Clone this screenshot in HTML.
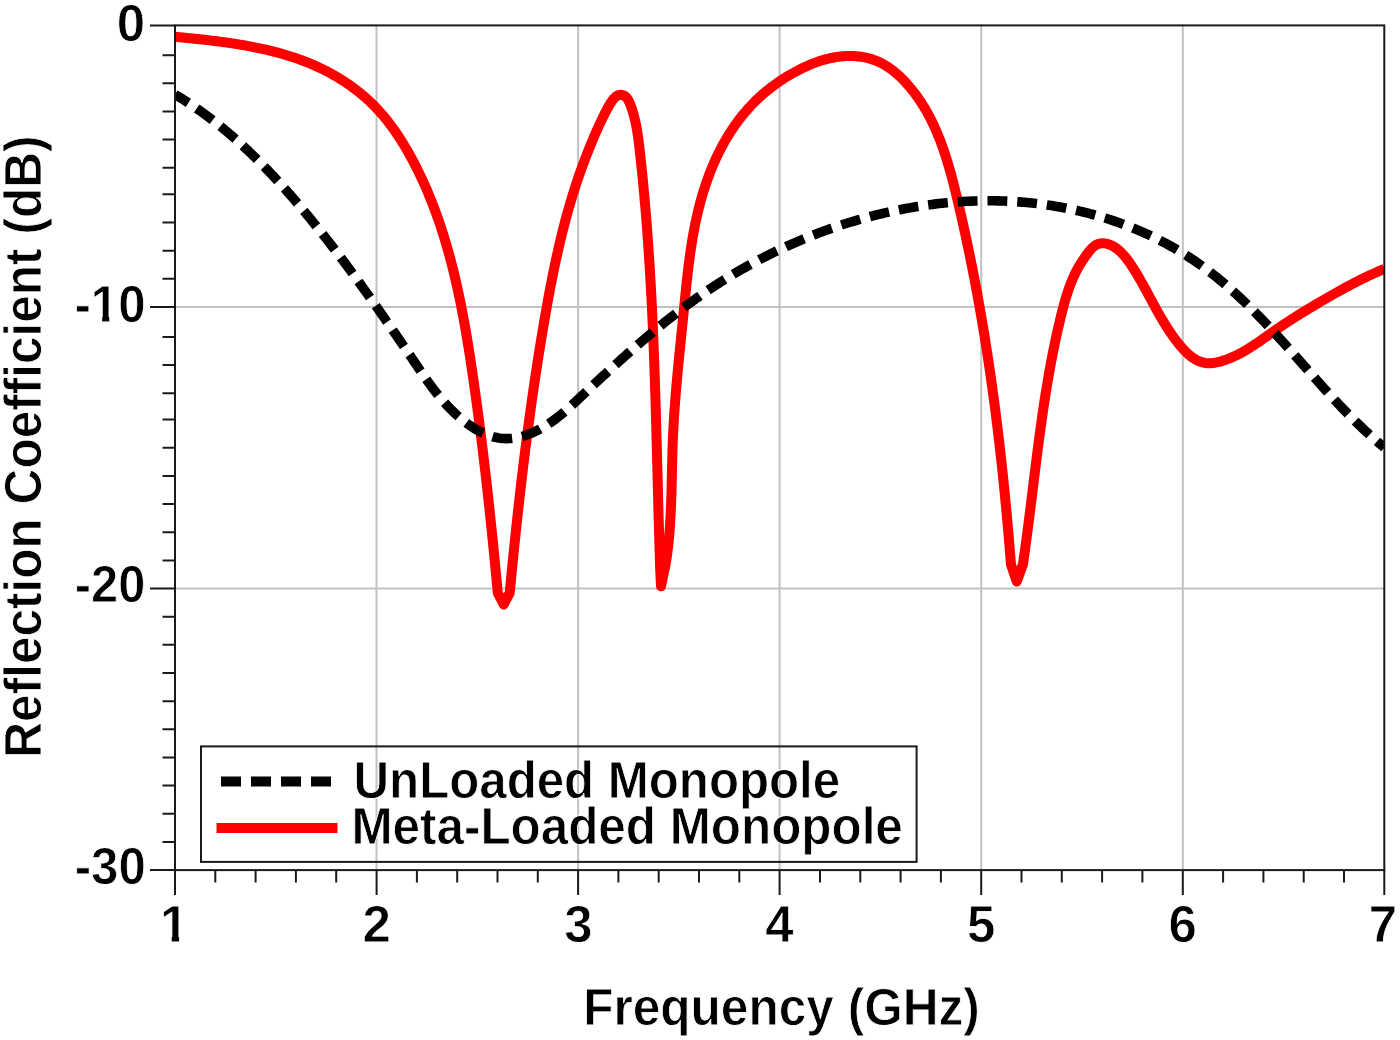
<!DOCTYPE html>
<html><head><meta charset="utf-8"><title>Reflection Coefficient</title>
<style>html,body{margin:0;padding:0;background:#fff;width:1400px;height:1040px;overflow:hidden}svg{display:block}</style>
</head><body>
<svg width="1400" height="1040" viewBox="0 0 1400 1040">
<rect width="1400" height="1040" fill="#fff"/>
<path d="M376.5 25.4V870.1M578.1 25.4V870.1M779.6 25.4V870.1M981.2 25.4V870.1M1182.8 25.4V870.1M175.0 307.0H1384.3M175.0 588.5H1384.3" stroke="#c2c2c2" stroke-width="2" fill="none"/>
<defs><clipPath id="c"><rect x="175.0" y="19.4" width="1209.3" height="850.7"/></clipPath></defs>
<g clip-path="url(#c)" fill="none" stroke-linejoin="round">
<path d="M175.00 36.70L177.44 36.94L179.89 37.19L182.35 37.44L184.81 37.68L187.28 37.94L189.75 38.19L192.22 38.45L194.70 38.71L197.19 38.98L199.68 39.25L202.17 39.52L204.66 39.80L207.16 40.09L209.66 40.39L212.17 40.69L214.67 41.00L217.18 41.31L219.69 41.64L222.19 41.97L224.70 42.32L227.21 42.67L229.72 43.03L232.23 43.40L234.74 43.79L237.24 44.18L239.75 44.59L242.25 45.01L244.75 45.45L247.25 45.89L249.75 46.35L252.24 46.83L254.73 47.31L257.22 47.82L259.70 48.34L262.18 48.87L264.65 49.42L267.12 49.99L269.58 50.58L272.04 51.18L274.49 51.80L276.94 52.44L279.37 53.10L281.80 53.78L284.23 54.48L286.64 55.20L289.05 55.94L291.45 56.70L293.84 57.49L296.22 58.29L298.60 59.12L300.96 59.97L303.31 60.85L305.65 61.75L307.99 62.67L310.31 63.62L312.62 64.59L314.91 65.59L317.20 66.62L319.47 67.67L321.74 68.75L323.98 69.86L326.22 70.99L328.44 72.15L330.64 73.34L332.83 74.55L335.01 75.79L337.17 77.06L339.31 78.35L341.43 79.67L343.54 81.01L345.63 82.39L347.70 83.78L349.75 85.21L351.78 86.66L353.79 88.14L355.79 89.64L357.76 91.17L359.70 92.73L361.63 94.31L363.54 95.92L365.42 97.56L367.28 99.22L369.11 100.91L370.92 102.62L372.71 104.36L374.46 106.13L376.20 107.92L377.91 109.74L379.59 111.58L381.24 113.45L382.87 115.34L384.48 117.25L386.06 119.19L387.62 121.15L389.15 123.12L390.67 125.12L392.15 127.14L393.62 129.18L395.06 131.23L396.49 133.30L397.89 135.39L399.27 137.49L400.63 139.61L401.97 141.74L403.30 143.88L404.60 146.03L405.88 148.20L407.15 150.38L408.40 152.57L409.63 154.77L410.85 156.97L412.04 159.19L413.23 161.41L414.39 163.64L415.54 165.87L416.68 168.11L417.80 170.36L418.90 172.61L419.99 174.87L421.07 177.13L422.13 179.41L423.18 181.68L424.21 183.97L425.23 186.25L426.23 188.55L427.22 190.85L428.19 193.15L429.16 195.46L430.10 197.78L431.04 200.10L431.96 202.43L432.87 204.76L433.77 207.10L434.65 209.44L435.52 211.79L436.38 214.14L437.22 216.49L438.06 218.85L438.88 221.22L439.69 223.59L440.49 225.96L441.27 228.34L442.05 230.73L442.81 233.11L443.56 235.50L444.30 237.90L445.04 240.30L445.76 242.70L446.46 245.11L447.16 247.52L447.85 249.93L448.53 252.35L449.20 254.77L449.86 257.19L450.51 259.62L451.15 262.05L451.78 264.49L452.40 266.92L453.01 269.36L453.62 271.81L454.21 274.25L454.80 276.70L455.37 279.15L455.94 281.61L456.50 284.06L457.06 286.52L457.60 288.98L458.14 291.45L458.67 293.91L459.19 296.38L459.71 298.85L460.21 301.32L460.71 303.80L461.21 306.27L461.70 308.75L462.18 311.23L462.65 313.71L463.12 316.19L463.58 318.68L464.04 321.16L464.49 323.65L464.93 326.14L465.37 328.62L465.81 331.11L466.23 333.60L466.66 336.10L467.08 338.59L467.49 341.08L467.90 343.58L468.30 346.07L468.71 348.56L469.10 351.06L469.49 353.55L469.88 356.05L470.27 358.55L470.65 361.04L471.03 363.54L471.40 366.03L471.77 368.53L472.14 371.02L472.50 373.52L472.87 376.01L473.23 378.51L473.58 381.00L473.94 383.50L474.29 385.99L474.64 388.48L474.99 390.97L475.34 393.46L475.69 395.95L476.03 398.44L476.37 400.93L476.71 403.42L477.04 405.91L477.38 408.40L477.71 410.88L478.04 413.37L478.37 415.86L478.70 418.34L479.02 420.83L479.35 423.31L479.67 425.80L479.99 428.28L480.30 430.77L480.62 433.25L480.93 435.74L481.25 438.22L481.56 440.71L481.87 443.19L482.17 445.67L482.48 448.16L482.78 450.64L483.08 453.13L483.38 455.61L483.68 458.09L483.98 460.58L484.27 463.06L484.57 465.54L484.86 468.03L485.15 470.51L485.44 473.00L485.72 475.48L486.01 477.97L486.29 480.45L486.58 482.94L486.86 485.42L487.14 487.91L487.42 490.39L487.69 492.88L487.97 495.37L488.24 497.86L488.51 500.34L488.79 502.83L489.06 505.32L489.32 507.81L489.59 510.30L489.86 512.79L490.12 515.28L490.39 517.77L490.65 520.26L490.91 522.76L491.17 525.25L491.43 527.74L491.69 530.24L491.94 532.73L492.20 535.23L492.45 537.73L492.71 540.22L492.96 542.72L493.21 545.22L493.46 547.72L493.71 550.22L493.95 552.73L494.20 555.23L494.45 557.73L494.69 560.24L494.94 562.74L495.18 565.25L495.42 567.76L495.66 570.27L495.90 572.78L496.14 575.29L496.38 577.80L496.62 580.31L496.86 582.83L497.09 585.35L497.33 587.86L497.56 590.38L497.80 592.90L503.70 604.50L509.70 592.90L509.94 590.40L510.18 587.91L510.41 585.41L510.65 582.92L510.90 580.42L511.14 577.93L511.38 575.43L511.62 572.94L511.87 570.44L512.12 567.95L512.36 565.45L512.61 562.96L512.86 560.46L513.11 557.97L513.36 555.47L513.62 552.98L513.87 550.48L514.12 547.99L514.38 545.50L514.64 543.00L514.90 540.51L515.16 538.01L515.42 535.52L515.68 533.03L515.95 530.53L516.21 528.04L516.48 525.55L516.75 523.06L517.01 520.56L517.29 518.07L517.56 515.58L517.83 513.09L518.10 510.59L518.38 508.10L518.66 505.61L518.94 503.12L519.22 500.63L519.50 498.14L519.78 495.65L520.07 493.16L520.35 490.67L520.64 488.17L520.93 485.68L521.22 483.19L521.52 480.70L521.81 478.22L522.11 475.73L522.40 473.24L522.70 470.75L523.00 468.26L523.30 465.77L523.61 463.28L523.91 460.79L524.22 458.31L524.53 455.82L524.84 453.33L525.15 450.84L525.47 448.36L525.78 445.87L526.10 443.38L526.42 440.90L526.74 438.41L527.07 435.93L527.39 433.44L527.72 430.95L528.05 428.47L528.38 425.98L528.71 423.50L529.04 421.02L529.38 418.53L529.72 416.05L530.06 413.56L530.40 411.08L530.74 408.60L531.09 406.12L531.44 403.63L531.79 401.15L532.14 398.67L532.50 396.19L532.85 393.71L533.21 391.23L533.57 388.75L533.93 386.26L534.30 383.78L534.66 381.30L535.03 378.83L535.40 376.35L535.78 373.87L536.15 371.39L536.53 368.91L536.91 366.43L537.29 363.95L537.68 361.48L538.06 359.00L538.45 356.52L538.84 354.05L539.24 351.57L539.63 349.10L540.03 346.62L540.43 344.15L540.84 341.67L541.24 339.20L541.65 336.72L542.06 334.25L542.47 331.78L542.89 329.30L543.30 326.83L543.72 324.36L544.14 321.89L544.57 319.42L545.00 316.95L545.43 314.47L545.86 312.00L546.30 309.53L546.73 307.07L547.18 304.60L547.62 302.13L548.07 299.66L548.52 297.20L548.98 294.73L549.44 292.27L549.91 289.80L550.38 287.34L550.85 284.88L551.33 282.42L551.81 279.96L552.30 277.50L552.79 275.04L553.29 272.58L553.79 270.13L554.30 267.67L554.81 265.22L555.33 262.77L555.86 260.32L556.39 257.87L556.93 255.42L557.47 252.97L558.02 250.53L558.58 248.09L559.14 245.65L559.71 243.21L560.28 240.77L560.87 238.33L561.46 235.90L562.06 233.47L562.66 231.03L563.28 228.61L563.90 226.18L564.53 223.75L565.16 221.33L565.81 218.91L566.46 216.49L567.12 214.07L567.80 211.66L568.48 209.25L569.16 206.84L569.86 204.43L570.57 202.03L571.28 199.62L572.01 197.22L572.74 194.83L573.49 192.43L574.24 190.04L575.01 187.65L575.78 185.26L576.57 182.88L577.36 180.49L578.17 178.11L578.99 175.74L579.81 173.37L580.65 171.00L581.50 168.63L582.35 166.27L583.22 163.91L584.10 161.56L584.98 159.22L585.88 156.87L586.79 154.54L587.70 152.21L588.62 149.88L589.56 147.57L590.50 145.25L591.45 142.95L592.41 140.65L593.38 138.36L594.35 136.08L595.34 133.81L596.33 131.54L597.33 129.29L598.34 127.04L599.35 124.80L600.39 122.57L601.44 120.32L602.53 118.04L603.67 115.73L604.86 113.37L606.12 110.95L607.46 108.45L608.88 105.88L610.39 103.32L611.99 100.90L613.67 98.74L615.43 96.96L617.28 95.68L619.19 94.96L621.10 94.79L622.96 95.15L624.73 96.02L626.36 97.40L627.80 99.26L629.05 101.50L630.15 104.02L631.13 106.68L632.03 109.36L632.85 112.02L633.61 114.65L634.31 117.25L634.95 119.83L635.53 122.39L636.07 124.93L636.56 127.45L637.01 129.95L637.42 132.45L637.80 134.93L638.16 137.40L638.48 139.86L638.79 142.32L639.09 144.77L639.37 147.22L639.65 149.68L639.92 152.13L640.20 154.59L640.46 157.05L640.73 159.52L640.99 161.98L641.25 164.45L641.51 166.92L641.76 169.39L642.01 171.87L642.26 174.35L642.51 176.83L642.75 179.31L642.99 181.79L643.23 184.27L643.47 186.76L643.70 189.25L643.93 191.74L644.16 194.23L644.38 196.72L644.60 199.21L644.82 201.71L645.04 204.21L645.26 206.70L645.47 209.20L645.68 211.70L645.88 214.20L646.09 216.70L646.29 219.21L646.49 221.71L646.69 224.21L646.88 226.72L647.07 229.22L647.26 231.73L647.45 234.23L647.63 236.74L647.81 239.25L647.99 241.75L648.17 244.26L648.35 246.77L648.52 249.27L648.69 251.78L648.86 254.29L649.02 256.79L649.19 259.30L649.35 261.81L649.51 264.32L649.66 266.82L649.82 269.33L649.97 271.83L650.12 274.34L650.27 276.85L650.41 279.35L650.56 281.86L650.70 284.37L650.84 286.87L650.97 289.38L651.11 291.88L651.24 294.39L651.38 296.90L651.51 299.40L651.63 301.91L651.76 304.41L651.89 306.92L652.01 309.42L652.13 311.93L652.25 314.43L652.37 316.94L652.48 319.45L652.60 321.95L652.71 324.46L652.82 326.96L652.93 329.47L653.04 331.97L653.15 334.48L653.25 336.98L653.35 339.49L653.46 341.99L653.56 344.50L653.66 347.00L653.75 349.51L653.85 352.01L653.95 354.52L654.04 357.02L654.13 359.52L654.23 362.03L654.32 364.53L654.41 367.04L654.49 369.54L654.58 372.05L654.67 374.55L654.75 377.06L654.84 379.56L654.92 382.07L655.00 384.57L655.08 387.08L655.16 389.58L655.24 392.08L655.32 394.59L655.40 397.09L655.47 399.60L655.55 402.10L655.63 404.61L655.70 407.11L655.77 409.62L655.85 412.12L655.92 414.63L655.99 417.13L656.06 419.64L656.13 422.14L656.20 424.64L656.27 427.15L656.34 429.65L656.41 432.16L656.48 434.66L656.54 437.17L656.61 439.67L656.68 442.18L656.74 444.68L656.81 447.19L656.88 449.69L656.94 452.20L657.01 454.70L657.07 457.21L657.14 459.71L657.20 462.22L657.27 464.72L657.33 467.23L657.39 469.73L657.46 472.24L657.52 474.74L657.59 477.25L657.65 479.76L657.72 482.26L657.78 484.77L657.84 487.27L657.91 489.78L657.97 492.28L658.04 494.79L658.10 497.30L658.17 499.80L658.23 502.31L658.30 504.81L658.37 507.32L658.43 509.83L658.50 512.33L658.57 514.84L658.64 517.34L658.70 519.85L658.77 522.36L658.84 524.86L658.91 527.37L658.98 529.88L659.05 532.39L659.12 534.89L659.19 537.40L659.27 539.91L659.34 542.41L659.41 544.92L659.49 547.43L659.56 549.94L659.64 552.44L659.72 554.95L659.80 557.46L659.87 559.97L659.95 562.48L660.03 564.98L660.12 567.49L660.20 570.00L661.00 586.30L665.50 565.00L665.91 562.52L666.29 560.04L666.66 557.56L667.01 555.08L667.35 552.59L667.66 550.10L667.96 547.62L668.25 545.13L668.51 542.63L668.77 540.14L669.01 537.64L669.23 535.15L669.44 532.65L669.64 530.15L669.83 527.65L670.00 525.15L670.17 522.65L670.32 520.14L670.47 517.64L670.60 515.13L670.72 512.62L670.84 510.12L670.95 507.61L671.05 505.10L671.15 502.59L671.23 500.08L671.32 497.57L671.39 495.06L671.47 492.55L671.53 490.03L671.60 487.52L671.66 485.01L671.72 482.50L671.78 479.98L671.83 477.47L671.89 474.96L671.94 472.44L671.99 469.93L672.05 467.42L672.11 464.91L672.16 462.39L672.22 459.88L672.29 457.37L672.35 454.86L672.42 452.35L672.50 449.84L672.58 447.33L672.66 444.82L672.76 442.32L672.85 439.81L672.96 437.30L673.07 434.80L673.19 432.29L673.31 429.79L673.44 427.29L673.58 424.78L673.73 422.28L673.88 419.78L674.03 417.28L674.19 414.78L674.36 412.28L674.53 409.79L674.71 407.29L674.89 404.79L675.08 402.29L675.27 399.80L675.47 397.30L675.67 394.81L675.87 392.31L676.08 389.82L676.29 387.32L676.51 384.83L676.73 382.33L676.95 379.84L677.17 377.34L677.40 374.85L677.63 372.36L677.87 369.86L678.11 367.37L678.34 364.88L678.59 362.38L678.83 359.89L679.07 357.39L679.32 354.90L679.57 352.41L679.82 349.91L680.07 347.42L680.32 344.92L680.58 342.43L680.83 339.93L681.08 337.44L681.34 334.94L681.59 332.45L681.85 329.95L682.10 327.45L682.36 324.96L682.61 322.46L682.86 319.96L683.12 317.46L683.37 314.96L683.62 312.46L683.87 309.96L684.12 307.46L684.37 304.96L684.62 302.45L684.87 299.95L685.12 297.45L685.37 294.95L685.63 292.44L685.88 289.94L686.14 287.44L686.41 284.94L686.67 282.44L686.95 279.94L687.22 277.44L687.51 274.94L687.79 272.45L688.09 269.95L688.39 267.46L688.70 264.96L689.01 262.47L689.34 259.98L689.67 257.49L690.01 255.00L690.36 252.52L690.72 250.04L691.09 247.55L691.47 245.08L691.87 242.60L692.27 240.12L692.69 237.65L693.12 235.18L693.56 232.72L694.01 230.25L694.48 227.79L694.97 225.34L695.46 222.88L695.98 220.43L696.51 217.98L697.05 215.54L697.61 213.10L698.19 210.66L698.79 208.23L699.41 205.80L700.04 203.37L700.69 200.95L701.36 198.53L702.06 196.12L702.77 193.71L703.50 191.31L704.25 188.91L705.03 186.52L705.82 184.13L706.64 181.75L707.48 179.38L708.34 177.02L709.22 174.66L710.12 172.31L711.05 169.97L712.00 167.65L712.97 165.33L713.96 163.02L714.98 160.72L716.02 158.44L717.08 156.16L718.17 153.90L719.28 151.65L720.42 149.42L721.57 147.20L722.76 145.00L723.97 142.81L725.20 140.63L726.46 138.47L727.74 136.33L729.05 134.20L730.38 132.10L731.74 130.01L733.12 127.93L734.53 125.88L735.97 123.85L737.43 121.84L738.92 119.84L740.44 117.87L741.99 115.92L743.56 113.99L745.15 112.09L746.78 110.20L748.43 108.34L750.11 106.51L751.82 104.69L753.56 102.91L755.33 101.14L757.12 99.41L758.94 97.70L760.79 96.01L762.66 94.35L764.56 92.72L766.48 91.11L768.43 89.53L770.40 87.98L772.40 86.45L774.42 84.96L776.46 83.49L778.52 82.04L780.61 80.63L782.72 79.24L784.85 77.89L787.00 76.56L789.17 75.26L791.36 73.99L793.57 72.75L795.80 71.54L798.05 70.36L800.32 69.21L802.60 68.09L804.90 67.01L807.22 65.96L809.55 64.95L811.90 63.98L814.26 63.05L816.64 62.17L819.03 61.34L821.43 60.56L823.85 59.83L826.28 59.16L828.72 58.54L831.17 57.98L833.63 57.49L836.10 57.06L838.57 56.70L841.06 56.41L843.56 56.19L846.05 56.05L848.55 55.97L851.05 55.98L853.54 56.06L856.03 56.22L858.50 56.46L860.96 56.78L863.40 57.18L865.83 57.66L868.23 58.23L870.61 58.89L872.95 59.63L875.27 60.46L877.55 61.38L879.80 62.40L882.00 63.50L884.17 64.69L886.30 65.96L888.38 67.31L890.43 68.74L892.44 70.23L894.41 71.78L896.34 73.39L898.24 75.06L900.09 76.78L901.90 78.54L903.68 80.34L905.42 82.18L907.12 84.05L908.78 85.95L910.40 87.86L911.99 89.80L913.54 91.76L915.06 93.75L916.53 95.75L917.98 97.77L919.39 99.82L920.77 101.88L922.11 103.96L923.42 106.06L924.71 108.18L925.96 110.31L927.18 112.46L928.37 114.63L929.53 116.82L930.67 119.02L931.78 121.24L932.86 123.47L933.92 125.71L934.95 127.97L935.95 130.24L936.94 132.53L937.89 134.83L938.83 137.14L939.75 139.46L940.64 141.79L941.51 144.14L942.37 146.49L943.20 148.85L944.02 151.23L944.82 153.61L945.60 156.00L946.36 158.40L947.11 160.81L947.85 163.22L948.57 165.64L949.27 168.07L949.97 170.50L950.65 172.94L951.32 175.39L951.97 177.83L952.62 180.29L953.26 182.74L953.89 185.20L954.51 187.66L955.12 190.13L955.73 192.59L956.33 195.06L956.92 197.53L957.51 199.99L958.09 202.46L958.67 204.93L959.25 207.40L959.82 209.87L960.39 212.33L960.96 214.80L961.52 217.27L962.08 219.73L962.63 222.20L963.18 224.67L963.73 227.13L964.28 229.60L964.82 232.06L965.35 234.53L965.88 236.99L966.41 239.46L966.94 241.92L967.46 244.39L967.98 246.85L968.49 249.32L969.01 251.78L969.51 254.25L970.02 256.71L970.52 259.17L971.02 261.64L971.51 264.10L972.00 266.56L972.49 269.03L972.98 271.49L973.46 273.95L973.93 276.42L974.41 278.88L974.88 281.34L975.35 283.81L975.81 286.27L976.27 288.73L976.73 291.20L977.19 293.66L977.64 296.13L978.09 298.59L978.53 301.05L978.97 303.52L979.41 305.98L979.85 308.44L980.28 310.91L980.71 313.37L981.14 315.84L981.56 318.30L981.98 320.76L982.40 323.23L982.81 325.69L983.22 328.16L983.63 330.62L984.04 333.09L984.44 335.56L984.84 338.02L985.23 340.49L985.63 342.95L986.02 345.42L986.41 347.89L986.79 350.35L987.17 352.82L987.55 355.29L987.93 357.76L988.30 360.22L988.68 362.69L989.04 365.16L989.41 367.63L989.77 370.10L990.13 372.57L990.49 375.04L990.85 377.51L991.20 379.98L991.55 382.45L991.89 384.92L992.24 387.39L992.58 389.87L992.92 392.34L993.26 394.81L993.59 397.28L993.92 399.76L994.25 402.23L994.58 404.71L994.90 407.18L995.22 409.66L995.54 412.14L995.86 414.61L996.17 417.09L996.48 419.57L996.79 422.05L997.10 424.53L997.40 427.00L997.71 429.48L998.01 431.97L998.30 434.45L998.60 436.93L998.89 439.41L999.18 441.89L999.47 444.38L999.76 446.86L1000.04 449.35L1000.32 451.83L1000.60 454.32L1000.88 456.81L1001.16 459.29L1001.43 461.78L1001.70 464.27L1001.97 466.76L1002.24 469.25L1002.50 471.74L1002.77 474.23L1003.03 476.72L1003.29 479.22L1003.54 481.71L1003.80 484.21L1004.05 486.70L1004.30 489.20L1004.55 491.70L1004.80 494.19L1005.04 496.69L1005.29 499.19L1005.53 501.69L1005.77 504.19L1006.00 506.70L1006.24 509.20L1006.47 511.70L1006.71 514.21L1006.94 516.71L1007.16 519.22L1007.39 521.73L1007.62 524.24L1007.84 526.74L1008.06 529.25L1008.28 531.77L1008.50 534.28L1008.72 536.79L1008.93 539.31L1009.15 541.82L1009.36 544.34L1009.57 546.85L1009.78 549.37L1009.98 551.89L1010.19 554.41L1010.39 556.93L1010.60 559.45L1010.80 561.98L1011.00 564.50L1016.70 581.50L1022.90 564.50L1023.27 562.01L1023.63 559.53L1023.98 557.04L1024.34 554.55L1024.69 552.06L1025.03 549.57L1025.38 547.08L1025.72 544.59L1026.06 542.10L1026.39 539.60L1026.73 537.11L1027.06 534.62L1027.39 532.12L1027.71 529.63L1028.04 527.13L1028.36 524.64L1028.68 522.14L1029.00 519.65L1029.31 517.15L1029.63 514.65L1029.94 512.16L1030.26 509.66L1030.57 507.16L1030.88 504.66L1031.19 502.17L1031.50 499.67L1031.81 497.17L1032.11 494.67L1032.42 492.17L1032.73 489.67L1033.04 487.17L1033.34 484.68L1033.65 482.18L1033.96 479.68L1034.27 477.18L1034.58 474.68L1034.88 472.18L1035.19 469.68L1035.51 467.19L1035.82 464.69L1036.13 462.19L1036.44 459.69L1036.76 457.19L1037.08 454.70L1037.40 452.20L1037.72 449.70L1038.04 447.21L1038.36 444.71L1038.69 442.22L1039.02 439.72L1039.35 437.23L1039.68 434.73L1040.02 432.24L1040.36 429.74L1040.70 427.25L1041.04 424.76L1041.39 422.27L1041.74 419.77L1042.09 417.28L1042.45 414.79L1042.81 412.30L1043.18 409.81L1043.55 407.33L1043.92 404.84L1044.30 402.35L1044.68 399.87L1045.06 397.38L1045.45 394.90L1045.85 392.41L1046.25 389.93L1046.65 387.45L1047.06 384.97L1047.47 382.49L1047.89 380.01L1048.32 377.53L1048.75 375.05L1049.18 372.58L1049.62 370.10L1050.07 367.63L1050.52 365.15L1050.98 362.68L1051.45 360.21L1051.92 357.74L1052.40 355.27L1052.88 352.81L1053.37 350.34L1053.87 347.88L1054.37 345.41L1054.89 342.95L1055.40 340.49L1055.93 338.03L1056.46 335.57L1057.01 333.12L1057.56 330.66L1058.11 328.21L1058.68 325.75L1059.25 323.30L1059.83 320.85L1060.42 318.41L1061.02 315.96L1061.62 313.51L1062.24 311.07L1062.87 308.63L1063.51 306.20L1064.17 303.77L1064.85 301.35L1065.55 298.94L1066.27 296.53L1067.02 294.14L1067.79 291.76L1068.60 289.39L1069.44 287.03L1070.31 284.69L1071.21 282.37L1072.16 280.06L1073.15 277.77L1074.17 275.50L1075.25 273.25L1076.37 271.02L1077.54 268.82L1078.76 266.64L1080.04 264.48L1081.37 262.33L1082.78 260.17L1084.27 257.98L1085.84 255.74L1087.51 253.44L1089.28 251.12L1091.15 248.92L1093.11 246.97L1095.18 245.42L1097.33 244.30L1099.56 243.61L1101.83 243.29L1104.12 243.33L1106.42 243.68L1108.70 244.32L1110.95 245.21L1113.14 246.32L1115.25 247.61L1117.28 249.07L1119.22 250.67L1121.09 252.40L1122.89 254.25L1124.62 256.20L1126.28 258.24L1127.89 260.35L1129.45 262.52L1130.96 264.72L1132.42 266.96L1133.85 269.20L1135.24 271.45L1136.61 273.69L1137.94 275.92L1139.25 278.15L1140.53 280.38L1141.79 282.60L1143.03 284.81L1144.26 287.02L1145.47 289.22L1146.66 291.42L1147.85 293.62L1149.03 295.80L1150.20 297.99L1151.37 300.16L1152.54 302.33L1153.71 304.50L1154.89 306.66L1156.07 308.82L1157.25 310.96L1158.45 313.11L1159.67 315.25L1160.89 317.38L1162.14 319.50L1163.40 321.62L1164.69 323.74L1166.00 325.85L1167.33 327.95L1168.70 330.04L1170.10 332.13L1171.53 334.22L1173.00 336.30L1174.50 338.37L1176.05 340.43L1177.64 342.49L1179.27 344.54L1180.95 346.56L1182.68 348.54L1184.45 350.47L1186.28 352.32L1188.16 354.08L1190.09 355.73L1192.07 357.26L1194.12 358.65L1196.21 359.89L1198.37 360.95L1200.59 361.82L1202.86 362.50L1205.20 362.95L1207.60 363.18L1210.05 363.20L1212.53 363.03L1215.04 362.70L1217.57 362.21L1220.10 361.59L1222.63 360.85L1225.14 360.01L1227.62 359.09L1230.07 358.10L1232.47 357.07L1234.82 356.00L1237.14 354.88L1239.41 353.73L1241.64 352.54L1243.84 351.31L1246.02 350.06L1248.16 348.78L1250.27 347.47L1252.37 346.13L1254.44 344.78L1256.50 343.41L1258.54 342.02L1260.57 340.62L1262.60 339.21L1264.62 337.79L1266.63 336.36L1268.65 334.93L1270.66 333.50L1272.69 332.07L1274.72 330.64L1276.76 329.22L1278.82 327.81L1280.89 326.40L1282.97 325.01L1285.07 323.62L1287.17 322.24L1289.28 320.86L1291.40 319.49L1293.53 318.13L1295.67 316.78L1297.82 315.43L1299.97 314.09L1302.13 312.76L1304.29 311.43L1306.46 310.11L1308.64 308.79L1310.81 307.49L1312.99 306.18L1315.17 304.89L1317.35 303.60L1319.54 302.31L1321.72 301.03L1323.91 299.76L1326.09 298.49L1328.27 297.23L1330.46 295.97L1332.64 294.73L1334.83 293.49L1337.02 292.25L1339.21 291.03L1341.40 289.81L1343.60 288.61L1345.80 287.41L1348.01 286.23L1350.22 285.05L1352.44 283.89L1354.66 282.73L1356.89 281.59L1359.12 280.47L1361.37 279.35L1363.62 278.25L1365.88 277.16L1368.14 276.09L1370.42 275.03L1372.71 273.98L1375.00 272.95L1377.31 271.94L1379.63 270.94L1381.96 269.96L1384.30 269.00" stroke="#ff0000" stroke-width="10"/>
<path d="M175.00 94.50L177.16 95.79L179.31 97.09L181.45 98.41L183.57 99.74L185.69 101.09L187.79 102.46L189.89 103.83L191.97 105.22L194.05 106.63L196.11 108.05L198.17 109.48L200.21 110.92L202.24 112.38L204.27 113.85L206.28 115.33L208.29 116.83L210.29 118.34L212.27 119.86L214.25 121.39L216.22 122.94L218.17 124.49L220.12 126.06L222.06 127.64L224.00 129.23L225.92 130.83L227.83 132.45L229.74 134.07L231.63 135.71L233.52 137.35L235.40 139.01L237.27 140.67L239.13 142.35L240.99 144.03L242.83 145.72L244.67 147.43L246.50 149.14L248.32 150.86L250.14 152.60L251.94 154.34L253.74 156.09L255.53 157.84L257.32 159.61L259.09 161.38L260.86 163.16L262.62 164.95L264.38 166.75L266.13 168.56L267.87 170.37L269.60 172.19L271.33 174.01L273.05 175.85L274.76 177.69L276.47 179.53L278.17 181.38L279.86 183.24L281.55 185.11L283.23 186.98L284.91 188.85L286.58 190.74L288.24 192.62L289.90 194.51L291.55 196.41L293.20 198.31L294.84 200.22L296.47 202.13L298.10 204.05L299.73 205.97L301.35 207.89L302.96 209.82L304.57 211.75L306.17 213.69L307.77 215.62L309.36 217.57L310.95 219.51L312.53 221.46L314.11 223.41L315.69 225.36L317.26 227.32L318.82 229.28L320.38 231.24L321.94 233.20L323.49 235.17L325.04 237.14L326.58 239.11L328.12 241.09L329.66 243.06L331.19 245.04L332.72 247.03L334.24 249.01L335.76 251.00L337.28 252.99L338.79 254.98L340.30 256.98L341.81 258.98L343.31 260.98L344.81 262.98L346.30 264.98L347.79 266.99L349.28 269.00L350.77 271.01L352.25 273.02L353.73 275.04L355.21 277.06L356.68 279.08L358.15 281.10L359.62 283.12L361.08 285.15L362.54 287.18L364.00 289.21L365.46 291.24L366.92 293.27L368.37 295.31L369.82 297.34L371.27 299.38L372.71 301.42L374.15 303.47L375.59 305.51L377.03 307.56L378.47 309.60L379.91 311.65L381.34 313.70L382.77 315.76L384.20 317.81L385.63 319.87L387.05 321.92L388.48 323.98L389.90 326.04L391.33 328.10L392.75 330.17L394.17 332.23L395.58 334.30L397.00 336.36L398.42 338.43L399.83 340.50L401.24 342.57L402.66 344.64L404.07 346.71L405.48 348.79L406.89 350.86L408.30 352.94L409.71 355.02L411.12 357.09L412.53 359.17L413.93 361.25L415.34 363.33L416.75 365.41L418.16 367.49L419.57 369.57L420.99 371.65L422.41 373.73L423.85 375.80L425.29 377.86L426.74 379.92L428.20 381.97L429.68 384.01L431.18 386.05L432.69 388.07L434.22 390.08L435.77 392.08L437.34 394.07L438.94 396.04L440.56 398.00L442.21 399.95L443.88 401.87L445.59 403.78L447.33 405.67L449.09 407.54L450.90 409.39L452.74 411.22L454.61 413.02L456.52 414.79L458.46 416.53L460.43 418.24L462.43 419.90L464.46 421.52L466.52 423.09L468.61 424.61L470.72 426.07L472.85 427.48L475.01 428.81L477.19 430.08L479.39 431.28L481.61 432.40L483.85 433.44L486.10 434.40L488.37 435.27L490.66 436.05L492.95 436.74L495.26 437.32L497.58 437.80L499.91 438.17L502.25 438.43L504.59 438.58L506.94 438.62L509.29 438.54L511.65 438.36L514.00 438.08L516.36 437.71L518.71 437.23L521.06 436.67L523.40 436.01L525.74 435.27L528.07 434.45L530.39 433.56L532.69 432.58L534.99 431.54L537.27 430.43L539.53 429.25L541.78 428.02L544.01 426.72L546.21 425.38L548.40 423.98L550.56 422.53L552.69 421.04L554.80 419.51L556.88 417.94L558.93 416.34L560.95 414.71L562.95 413.05L564.91 411.37L566.86 409.67L568.78 407.95L570.68 406.22L572.58 404.47L574.46 402.72L576.33 400.96L578.20 399.21L580.07 397.45L581.94 395.70L583.80 393.95L585.67 392.20L587.53 390.45L589.39 388.71L591.25 386.97L593.11 385.23L594.97 383.50L596.83 381.77L598.70 380.04L600.56 378.32L602.42 376.59L604.28 374.88L606.14 373.16L608.00 371.45L609.86 369.75L611.72 368.05L613.59 366.35L615.45 364.65L617.32 362.96L619.18 361.28L621.05 359.60L622.92 357.92L624.79 356.25L626.67 354.58L628.54 352.92L630.42 351.26L632.30 349.61L634.18 347.96L636.06 346.32L637.95 344.68L639.83 343.05L641.73 341.42L643.62 339.80L645.52 338.18L647.42 336.57L649.32 334.97L651.23 333.37L653.14 331.78L655.05 330.19L656.97 328.61L658.89 327.04L660.81 325.47L662.74 323.91L664.68 322.35L666.61 320.80L668.56 319.26L670.50 317.73L672.45 316.20L674.41 314.68L676.37 313.16L678.34 311.65L680.31 310.15L682.29 308.66L684.27 307.17L686.26 305.70L688.25 304.23L690.25 302.76L692.25 301.31L694.27 299.86L696.28 298.42L698.31 296.99L700.34 295.57L702.37 294.15L704.42 292.75L706.47 291.35L708.53 289.96L710.59 288.58L712.66 287.20L714.74 285.84L716.83 284.48L718.92 283.14L721.02 281.80L723.13 280.47L725.25 279.15L727.37 277.84L729.50 276.54L731.64 275.25L733.78 273.97L735.93 272.70L738.09 271.43L740.26 270.18L742.43 268.93L744.61 267.70L746.79 266.47L748.98 265.26L751.18 264.05L753.39 262.85L755.60 261.67L757.82 260.49L760.04 259.32L762.27 258.16L764.50 257.02L766.75 255.88L768.99 254.75L771.25 253.64L773.51 252.53L775.77 251.43L778.04 250.35L780.32 249.27L782.60 248.20L784.89 247.15L787.18 246.10L789.48 245.07L791.78 244.05L794.09 243.03L796.40 242.03L798.72 241.04L801.04 240.06L803.37 239.09L805.70 238.13L808.04 237.18L810.38 236.24L812.73 235.31L815.08 234.40L817.44 233.49L819.80 232.60L822.16 231.72L824.53 230.85L826.90 229.99L829.28 229.14L831.66 228.30L834.05 227.48L836.44 226.67L838.83 225.86L841.23 225.07L843.63 224.29L846.03 223.53L848.44 222.77L850.85 222.03L853.27 221.30L855.68 220.58L858.10 219.87L860.53 219.17L862.96 218.49L865.39 217.82L867.82 217.16L870.26 216.51L872.70 215.88L875.14 215.25L877.59 214.64L880.03 214.04L882.48 213.46L884.94 212.89L887.39 212.33L889.85 211.78L892.31 211.24L894.77 210.72L897.24 210.21L899.70 209.71L902.17 209.23L904.64 208.76L907.12 208.30L909.59 207.86L912.07 207.42L914.54 207.00L917.02 206.60L919.50 206.21L921.99 205.83L924.47 205.46L926.96 205.11L929.44 204.77L931.93 204.44L934.42 204.13L936.91 203.83L939.40 203.55L941.89 203.27L944.39 203.02L946.88 202.77L949.37 202.54L951.87 202.32L954.36 202.12L956.86 201.93L959.36 201.76L961.85 201.60L964.35 201.45L966.85 201.32L969.35 201.20L971.84 201.10L974.34 201.01L976.84 200.93L979.34 200.87L981.84 200.83L984.33 200.79L986.83 200.78L989.33 200.77L991.82 200.79L994.32 200.81L996.81 200.85L999.31 200.91L1001.80 200.98L1004.29 201.07L1006.79 201.17L1009.28 201.28L1011.77 201.41L1014.26 201.56L1016.75 201.72L1019.23 201.90L1021.72 202.09L1024.20 202.30L1026.68 202.52L1029.17 202.76L1031.65 203.01L1034.12 203.28L1036.60 203.56L1039.07 203.86L1041.55 204.18L1044.02 204.51L1046.49 204.85L1048.95 205.22L1051.42 205.59L1053.88 205.99L1056.34 206.40L1058.80 206.83L1061.26 207.27L1063.71 207.73L1066.16 208.20L1068.61 208.69L1071.05 209.20L1073.50 209.72L1075.93 210.26L1078.37 210.82L1080.81 211.39L1083.24 211.98L1085.67 212.58L1088.09 213.21L1090.51 213.84L1092.93 214.50L1095.34 215.17L1097.75 215.86L1100.16 216.56L1102.56 217.29L1104.96 218.02L1107.35 218.78L1109.74 219.55L1112.13 220.34L1114.50 221.14L1116.88 221.97L1119.24 222.80L1121.61 223.66L1123.96 224.53L1126.31 225.42L1128.66 226.32L1130.99 227.25L1133.33 228.18L1135.65 229.14L1137.97 230.11L1140.28 231.10L1142.58 232.11L1144.88 233.13L1147.16 234.17L1149.45 235.22L1151.72 236.30L1153.98 237.39L1156.24 238.49L1158.48 239.61L1160.72 240.75L1162.95 241.91L1165.17 243.08L1167.39 244.27L1169.59 245.48L1171.78 246.70L1173.96 247.95L1176.14 249.20L1178.30 250.48L1180.45 251.77L1182.59 253.08L1184.73 254.40L1186.85 255.74L1188.96 257.10L1191.05 258.48L1193.14 259.87L1195.22 261.28L1197.28 262.71L1199.33 264.15L1201.38 265.61L1203.41 267.08L1205.43 268.57L1207.43 270.08L1209.43 271.60L1211.42 273.13L1213.40 274.68L1215.36 276.24L1217.32 277.82L1219.27 279.41L1221.20 281.01L1223.13 282.63L1225.04 284.25L1226.95 285.89L1228.85 287.54L1230.74 289.21L1232.62 290.88L1234.49 292.56L1236.35 294.26L1238.20 295.96L1240.04 297.68L1241.88 299.40L1243.70 301.14L1245.52 302.88L1247.33 304.63L1249.13 306.39L1250.93 308.16L1252.71 309.93L1254.49 311.72L1256.26 313.51L1258.02 315.30L1259.78 317.11L1261.53 318.92L1263.27 320.73L1265.00 322.55L1266.73 324.38L1268.45 326.21L1270.17 328.04L1271.88 329.89L1273.59 331.73L1275.29 333.58L1276.98 335.43L1278.67 337.29L1280.36 339.15L1282.04 341.01L1283.72 342.88L1285.39 344.75L1287.06 346.62L1288.73 348.49L1290.40 350.36L1292.06 352.24L1293.73 354.12L1295.39 356.00L1297.04 357.88L1298.70 359.76L1300.36 361.64L1302.02 363.52L1303.67 365.40L1305.33 367.28L1306.98 369.16L1308.64 371.04L1310.30 372.92L1311.95 374.79L1313.61 376.67L1315.27 378.54L1316.94 380.41L1318.60 382.28L1320.27 384.15L1321.94 386.01L1323.61 387.87L1325.29 389.73L1326.97 391.58L1328.65 393.43L1330.34 395.28L1332.04 397.12L1333.73 398.95L1335.43 400.78L1337.14 402.61L1338.86 404.43L1340.57 406.25L1342.30 408.06L1344.03 409.86L1345.77 411.66L1347.51 413.45L1349.27 415.23L1351.02 417.01L1352.79 418.78L1354.57 420.54L1356.35 422.29L1358.14 424.04L1359.95 425.78L1361.76 427.51L1363.58 429.23L1365.41 430.94L1367.24 432.64L1369.09 434.33L1370.96 436.02L1372.83 437.69L1374.71 439.35L1376.60 441.00L1378.51 442.65L1380.43 444.28L1382.36 445.89L1384.30 447.50" stroke="#000" stroke-width="9.6" stroke-dasharray="19.8 9.95" stroke-dashoffset="3.98"/>
</g>
<rect x="175.0" y="25.4" width="1209.3" height="844.7" fill="none" stroke="#1a1a1a" stroke-width="2"/>
<path d="M150.0 25.4h25.0M162.5 55.2h12.5M162.5 83.3h12.5M162.5 111.5h12.5M162.5 139.6h12.5M162.5 167.8h12.5M162.5 194.3h12.5M162.5 222.5h12.5M162.5 250.7h12.5M162.5 278.8h12.5M150.0 307.0h25.0M162.5 336.9h12.5M162.5 365.1h12.5M162.5 393.2h12.5M162.5 419.6h12.5M162.5 447.8h12.5M162.5 475.9h12.5M162.5 504.1h12.5M162.5 532.2h12.5M162.5 560.4h12.5M150.0 588.5h25.0M162.5 616.7h12.5M162.5 644.8h12.5M162.5 673.0h12.5M162.5 701.2h12.5M162.5 729.3h12.5M162.5 757.5h12.5M162.5 785.6h12.5M162.5 813.8h12.5M162.5 841.9h12.5M150.0 870.1h25.0M175.0 870.1v25.0M215.3 870.1v12.5M255.6 870.1v12.5M295.9 870.1v12.5M336.2 870.1v12.5M376.6 870.1v25.0M416.9 870.1v12.5M457.2 870.1v12.5M497.5 870.1v12.5M537.8 870.1v12.5M578.1 870.1v25.0M618.4 870.1v12.5M658.7 870.1v12.5M699.0 870.1v12.5M739.3 870.1v12.5M779.6 870.1v25.0M820.0 870.1v12.5M860.3 870.1v12.5M900.6 870.1v12.5M940.9 870.1v12.5M981.2 870.1v25.0M1021.5 870.1v12.5M1061.8 870.1v12.5M1102.1 870.1v12.5M1142.4 870.1v12.5M1182.8 870.1v25.0M1223.1 870.1v12.5M1263.4 870.1v12.5M1303.7 870.1v12.5M1344.0 870.1v12.5M1384.3 870.1v25.0" stroke="#1a1a1a" stroke-width="2" fill="none"/>
<g font-family="Liberation Sans, Arial, sans-serif" font-weight="bold" font-size="51.00" fill="#000" stroke="#fff" stroke-width="0.80">
<text x="116.71" y="40.50">0</text>
<text x="74.43" y="322.30" textLength="71.14" lengthAdjust="spacingAndGlyphs" clip-path="url(#c1a)">-10</text>
<text x="74.84" y="602.10" textLength="70.51" lengthAdjust="spacingAndGlyphs">-20</text>
<text x="74.73" y="883.90" textLength="71.04" lengthAdjust="spacingAndGlyphs">-30</text>
<text x="160.01" y="941.80" clip-path="url(#c1b)">1</text>
<text x="362.51" y="941.80">2</text>
<text x="564.25" y="941.80">3</text>
<text x="765.22" y="941.80">4</text>
<text x="966.94" y="941.80">5</text>
<text x="1168.56" y="941.80">6</text>
<text x="1368.84" y="941.80">7</text>
<text x="583.13" y="1024.60" textLength="396.69" lengthAdjust="spacingAndGlyphs">Frequency (GHz)</text>
<text transform="rotate(-90)" x="-757.66" y="41.2" textLength="622.08" lengthAdjust="spacingAndGlyphs">Reflection Coefficient (dB)</text>
<rect x="201" y="746.4" width="715.6" height="115.5" fill="none" stroke="#1a1a1a" stroke-width="2"/>
<path d="M221 781.5H332" stroke="#000" stroke-width="10" stroke-dasharray="20 10"/>
<path d="M216.5 828H337.5" stroke="#ff0000" stroke-width="10"/>
<text x="353.59" y="797.90" textLength="486.54" lengthAdjust="spacingAndGlyphs">UnLoaded Monopole</text>
<text x="351.45" y="844.20" textLength="551.39" lengthAdjust="spacingAndGlyphs">Meta-Loaded Monopole</text>
</g>
<defs><clipPath id="c1a"><path clip-rule="evenodd" d="M0 0H1400V1040H0ZM91.78 315.33h10.38v9.97h-10.38ZM109.21 315.33h8.92v9.97h-8.92Z"/></clipPath><clipPath id="c1b"><path clip-rule="evenodd" d="M0 0H1400V1040H0ZM161.00 934.83h10.76v9.97h-10.76ZM179.06 934.83h9.24v9.97h-9.24Z"/></clipPath></defs>
</svg>
</body></html>
